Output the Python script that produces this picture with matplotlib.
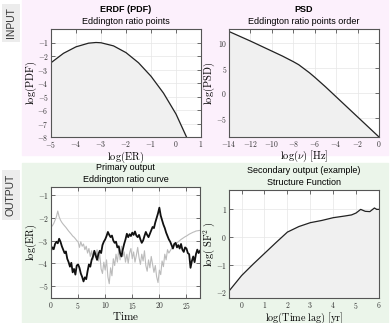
import numpy as np
import matplotlib.pyplot as plt
from matplotlib.patches import Rectangle
from matplotlib.ticker import FuncFormatter

plt.rcParams['mathtext.fontset'] = 'cm'

# ERDF (PDF)
erdf_x = [-5.0, -4.5, -4.0, -3.5, -3.2, -3.0, -2.5, -2.0, -1.5, -1.0, -0.5, 0.0, 0.42]
erdf_y = [-2.5, -1.8, -1.32, -1.05, -1.0, -1.02, -1.25, -1.75, -2.5, -3.5, -4.75, -6.3, -8.0]

# PSD
psd_x = [-14, -12, -10, -9, -8, -7.5, -7, -6.5, -6, -5, -4, -2, 0]
psd_y = [12.3, 10.4, 8.4, 7.4, 6.3, 5.7, 4.9, 4.1, 3.2, 1.3, -0.7, -4.7, -8.7]

# light curves
time = np.linspace(0, 27.5, 111)
er_black = [
    -3.45, -3.30, -3.38, -3.15, -3.05, -3.12, -2.92, -3.05, -3.25, -3.40,
    -3.55, -3.48, -3.80, -3.95, -4.15, -3.98, -4.40, -4.25, -4.50, -4.10,
    -4.05, -4.20, -4.45, -4.60, -4.80, -4.62, -4.70, -4.35, -4.05, -4.15,
    -3.85, -3.70, -3.45, -3.65, -3.85, -3.60, -3.45, -3.55, -3.20, -3.05,
    -2.95, -2.80, -2.62, -2.75, -2.85, -2.78, -3.00, -3.10, -3.05, -3.30,
    -3.25, -3.55, -3.70, -3.40, -3.15, -2.95, -2.70, -2.85, -2.72, -2.80,
    -2.65, -2.75, -2.60, -2.78, -2.85, -2.75, -2.95, -3.10, -3.00, -2.80,
    -2.62, -2.75, -2.85, -2.70, -2.55, -2.40, -2.45, -2.20, -2.00, -1.80,
    -1.55, -1.90, -2.10, -2.30, -2.45, -2.65, -2.80, -2.95, -3.05, -3.20,
    -3.35, -3.15, -3.10, -3.30, -3.20, -3.35, -3.15, -3.40, -3.50, -3.30,
    -3.35, -3.55, -3.60, -4.20, -3.90, -3.70, -3.95, -3.60, -3.40, -3.55,
    -3.45,
]
er_gray = [
    -2.40, -2.35, -2.25, -2.10, -1.95, -1.70, -1.95, -2.10, -2.20, -2.28,
    -2.35, -2.42, -2.50, -2.58, -2.65, -2.72, -2.80, -2.85, -2.92, -3.00,
    -3.05, -3.30, -3.05, -3.25, -3.15, -3.40, -3.25, -3.55, -3.35, -3.70,
    -3.45, -3.85, -3.55, -3.75, -3.40, -3.90, -3.60, -4.25, -4.45, -3.95,
    -4.30, -3.85, -4.60, -4.90, -4.20, -4.55, -3.80, -4.10, -3.60, -3.95,
    -3.40, -3.85, -3.25, -3.70, -3.50, -3.95, -3.60, -4.00, -3.55, -3.35,
    -3.80, -3.50, -3.95, -3.65, -3.30, -3.75, -4.05, -3.60, -3.90, -3.45,
    -4.10, -4.35, -3.85, -4.20, -3.70, -4.05, -4.40, -4.10, -4.60, -4.85,
    -4.30, -4.50, -3.90, -4.15, -3.60, -3.85, -3.40, -3.55, -3.45, -3.35,
    -3.30, -3.22, -3.15, -3.10, -3.05, -3.00, -2.95, -2.91, -2.87, -2.83,
    -2.80, -2.76, -2.72, -2.69, -2.66, -2.63, -2.61, -2.58, -2.57, -2.56,
    -2.55,
]

# structure function
sf_x = [-0.55, 0.0, 0.5, 1.0, 1.5, 2.0, 2.5, 3.0, 3.5, 4.0, 4.5, 4.8, 5.0, 5.2, 5.4, 5.6, 5.8, 5.9, 6.0]
sf_y = [-1.95, -1.39, -0.98, -0.59, -0.2, 0.18, 0.38, 0.52, 0.6, 0.7, 0.76, 0.8, 0.87, 1.0, 0.93, 0.92, 1.05, 1.0, 1.0]

W, H = 390, 323
fig = plt.figure(figsize=(W / 100, H / 100), dpi=100)

fig.patches.append(Rectangle((22 / W, 1 - 155 / H), 366 / W, 155 / H,
                             transform=fig.transFigure, color='#fcf0fc', zorder=-10))
fig.patches.append(Rectangle((22 / W, 0), 366 / W, 1 - 163 / H,
                             transform=fig.transFigure, color='#ebf5ea', zorder=-10))

box = dict(boxstyle='square,pad=0.35', fc='#ececec', ec='none')
fig.text(11 / W, 1 - 23 / H, 'INPUT', rotation=90, ha='center', va='center',
         fontsize=7.5, family='Liberation Sans', color='#333333', bbox=box)
fig.text(11 / W, 1 - 195 / H, 'OUTPUT', rotation=90, ha='center', va='center',
         fontsize=7.5, family='Liberation Sans', color='#333333', bbox=box)


def px_axes(x0, y0, x1, y1):
    return fig.add_axes([x0 / W, 1 - y1 / H, (x1 - x0) / W, (y1 - y0) / H])


def mathfmt(v, pos):
    return r'$%g$' % v


def style(ax, title, subtitle, xlabel, ylabel, bold=False, xlsize=7.5):
    ax.set_facecolor('white')
    ax.grid(True, color='#e6e6e6', lw=0.5)
    ax.set_axisbelow(True)
    for s in ax.spines.values():
        s.set_color('#555555')
        s.set_linewidth(0.8)
    ax.tick_params(direction='in', top=True, right=True, length=3, width=0.6,
                   color='#555555', labelsize=5.5, labelcolor='#333333', pad=1.5)
    ax.xaxis.set_major_formatter(FuncFormatter(mathfmt))
    ax.yaxis.set_major_formatter(FuncFormatter(mathfmt))
    ax.set_xlabel(xlabel, fontsize=xlsize, labelpad=-0.6)
    ax.set_ylabel(ylabel, fontsize=7.5, labelpad=-1)
    ax.annotate(subtitle, (0.5, 1), xycoords='axes fraction', xytext=(0, 2),
                textcoords='offset points', ha='center', va='bottom',
                fontsize=6.5, family='Liberation Sans')
    ax.annotate(title, (0.5, 1), xycoords='axes fraction', xytext=(0, 10.5),
                textcoords='offset points', ha='center', va='bottom',
                fontsize=6.5, family='Liberation Sans',
                weight='bold' if bold else 'normal')


# ERDF
ax1 = px_axes(51, 29, 201, 137)
ax1.fill_between(erdf_x, erdf_y, -8, color='#f0f0f0')
ax1.plot(erdf_x, erdf_y, color='#222222', lw=0.9)
ax1.set_xlim(-5, 1)
ax1.set_ylim(-8, 0)
ax1.set_yticks(range(-8, 0))
ax1.set_xticks(range(-5, 2))
style(ax1, 'ERDF (PDF)', 'Eddington ratio points',
      r'$\mathrm{log(ER)}$', r'$\mathrm{log(PDF)}$', bold=True)

# PSD
ax2 = px_axes(229, 29, 379, 137)
ax2.fill_between(psd_x, psd_y, -8.7, color='#f0f0f0')
ax2.plot(psd_x, psd_y, color='#222222', lw=0.9)
ax2.set_xlim(-14, 0)
ax2.set_ylim(-8.7, 12.8)
ax2.set_xticks(range(-14, 1, 2))
ax2.set_yticks([-5, 0, 5, 10])
style(ax2, 'PSD', 'Eddington ratio points order',
      r'$\mathrm{log}(\nu)\ \mathrm{[Hz]}$', r'$\mathrm{log(PSD)}$', bold=True)

# light curve
ax3 = px_axes(51, 187, 200, 298)
ax3.plot(time, er_gray, color='#bbbbbb', lw=0.8)
ax3.plot(time, er_black, color='#111111', lw=1.3)
ax3.set_xlim(0, 27.5)
ax3.set_ylim(-5.53, -0.64)
ax3.set_xticks(range(0, 26, 5))
ax3.set_yticks(range(-5, 0))
style(ax3, 'Primary output', 'Eddington ratio curve',
      r'$\mathrm{Time}$', r'$\mathrm{log(ER)}$', xlsize=8)

# structure function
ax4 = px_axes(229, 190, 379, 298)
ax4.fill_between(sf_x, sf_y, -2.2, color='#f0f0f0')
ax4.plot(sf_x, sf_y, color='#222222', lw=0.9)
ax4.set_xlim(-0.55, 6)
ax4.set_ylim(-2.2, 1.7)
ax4.set_xticks(range(0, 7))
ax4.set_yticks([-2, -1, 0, 1])
style(ax4, 'Secondary output (example)', 'Structure Function',
      r'$\mathrm{log(Time\ lag)\ [yr]}$', r'$\mathrm{log(\ SF^2\ )}$', xlsize=7.3)

fig.savefig('out.png', dpi=100)
